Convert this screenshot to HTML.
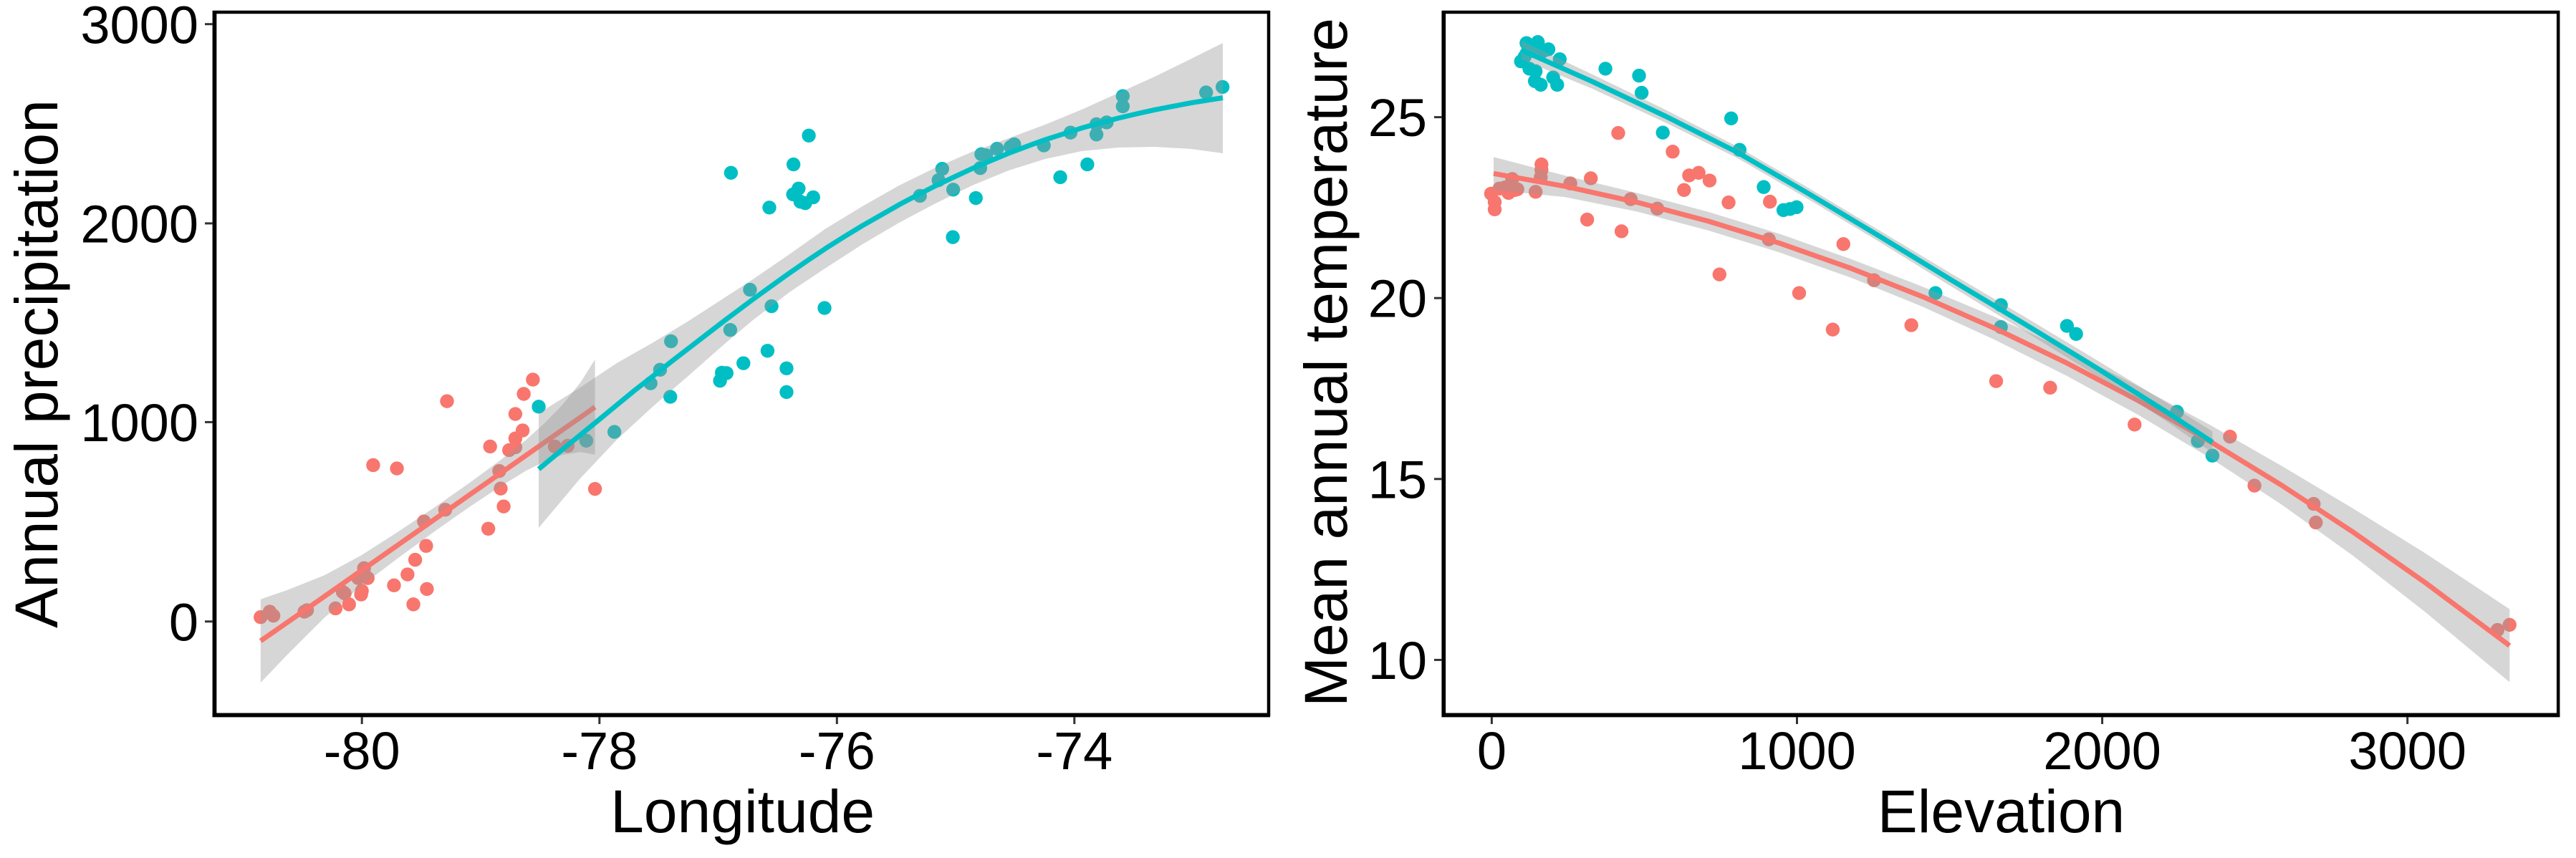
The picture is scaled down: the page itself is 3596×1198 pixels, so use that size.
<!DOCTYPE html>
<html>
<head>
<meta charset="utf-8">
<style>
html,body{margin:0;padding:0;background:#fff;}
svg{display:block;}
text{font-family:"Liberation Sans",Arial,Helvetica,sans-serif;fill:#000;}
</style>
</head>
<body>
<svg width="3596" height="1198" viewBox="0 0 3596 1198" xmlns="http://www.w3.org/2000/svg">
<rect x="0" y="0" width="3596" height="1198" fill="#fff"/>

<!-- ================= LEFT PANEL POINTS ================= -->
<g transform="translate(300,200) scale(0.5102)">
  <g fill="#F8766D">
    <circle cx="125" cy="1297" r="19"/><circle cx="150" cy="1282" r="19"/><circle cx="160" cy="1293" r="19"/>
    <circle cx="245" cy="1282" r="19"/><circle cx="252" cy="1278" r="19"/><circle cx="330" cy="1273" r="19"/>
    <circle cx="350" cy="1228" r="19"/><circle cx="355" cy="1232" r="19"/><circle cx="367" cy="1262" r="19"/>
    <circle cx="400" cy="1235" r="19"/><circle cx="402" cy="1225" r="19"/><circle cx="392" cy="1190" r="19"/>
    <circle cx="408" cy="1163" r="19"/><circle cx="418" cy="1190" r="19"/><circle cx="490" cy="1210" r="19"/>
    <circle cx="527" cy="1180" r="19"/><circle cx="548" cy="1140" r="19"/><circle cx="543" cy="1262" r="19"/>
    <circle cx="580" cy="1220" r="19"/><circle cx="578" cy="1102" r="19"/><circle cx="572" cy="1035" r="19"/>
    <circle cx="630" cy="1003" r="19"/><circle cx="433" cy="881" r="19"/><circle cx="498" cy="890" r="19"/>
    <circle cx="635" cy="706" r="19"/><circle cx="748" cy="1055" r="19"/><circle cx="790" cy="994" r="19"/>
    <circle cx="782" cy="945" r="19"/><circle cx="778" cy="897" r="19"/><circle cx="753" cy="830" r="19"/>
    <circle cx="805" cy="840" r="19"/><circle cx="822" cy="832" r="19"/><circle cx="822" cy="808" r="19"/>
    <circle cx="842" cy="786" r="19"/><circle cx="822" cy="741" r="19"/><circle cx="845" cy="686" r="19"/>
    <circle cx="870" cy="647" r="19"/><circle cx="930" cy="830" r="19"/><circle cx="965" cy="828" r="19"/>
    <circle cx="1040" cy="946" r="19"/>
  </g>
  <g fill="#00BFC4">
    <circle cx="886" cy="721" r="19"/><circle cx="1016" cy="814" r="19"/><circle cx="1093" cy="790" r="19"/>
    <circle cx="1192" cy="657" r="19"/><circle cx="1218" cy="620" r="19"/><circle cx="1248" cy="542" r="19"/>
    <circle cx="1246" cy="694" r="19"/>
  </g>
</g>
<g transform="translate(1000,0) scale(0.5102)" fill="#00BFC4">
  <circle cx="40" cy="473" r="19"/><circle cx="145" cy="568" r="19"/><circle cx="211" cy="450" r="19"/>
  <circle cx="253" cy="371" r="19"/><circle cx="210" cy="532" r="19"/><circle cx="225" cy="516" r="19"/>
  <circle cx="230" cy="552" r="19"/><circle cx="243" cy="556" r="19"/><circle cx="265" cy="540" r="19"/>
  <circle cx="92" cy="793" r="19"/><circle cx="38" cy="903" r="19"/><circle cx="151" cy="838" r="19"/>
  <circle cx="296" cy="843" r="19"/><circle cx="140" cy="960" r="19"/><circle cx="74" cy="994" r="19"/>
  <circle cx="15" cy="1020" r="19"/><circle cx="28" cy="1021" r="19"/><circle cx="10" cy="1042" r="19"/>
  <circle cx="192" cy="1008" r="19"/><circle cx="192" cy="1073" r="19"/><circle cx="557" cy="536" r="19"/>
  <circle cx="618" cy="462" r="19"/><circle cx="608" cy="493" r="19"/><circle cx="648" cy="519" r="19"/>
  <circle cx="647" cy="649" r="19"/><circle cx="710" cy="542" r="19"/><circle cx="722" cy="460" r="19"/>
  <circle cx="725" cy="422" r="19"/><circle cx="738" cy="425" r="19"/><circle cx="768" cy="407" r="19"/>
  <circle cx="805" cy="402" r="19"/><circle cx="815" cy="395" r="19"/><circle cx="896" cy="398" r="19"/>
  <circle cx="941" cy="485" r="19"/><circle cx="969" cy="363" r="19"/><circle cx="1015" cy="450" r="19"/>
  <circle cx="1040" cy="340" r="19"/><circle cx="1040" cy="368" r="19"/><circle cx="1068" cy="335" r="19"/>
  <circle cx="1112" cy="263" r="19"/><circle cx="1112" cy="291" r="19"/><circle cx="1340" cy="253" r="19"/>
  <circle cx="1385" cy="238" r="19"/>
</g>

<!-- ================= RIGHT PANEL POINTS ================= -->
<g transform="translate(2010,0) scale(0.5102)">
  <g fill="#F8766D">
    <circle cx="140" cy="530" r="19"/><circle cx="150" cy="553" r="19"/><circle cx="150" cy="573" r="19"/>
    <circle cx="163" cy="516" r="19"/><circle cx="178" cy="513" r="19"/><circle cx="188" cy="528" r="19"/>
    <circle cx="198" cy="490" r="19"/><circle cx="205" cy="520" r="19"/><circle cx="212" cy="518" r="19"/>
    <circle cx="262" cy="525" r="19"/><circle cx="276" cy="485" r="19"/><circle cx="278" cy="465" r="19"/>
    <circle cx="278" cy="450" r="19"/><circle cx="357" cy="502" r="19"/><circle cx="413" cy="488" r="19"/>
    <circle cx="403" cy="601" r="19"/><circle cx="488" cy="364" r="19"/><circle cx="497" cy="633" r="19"/>
    <circle cx="522" cy="545" r="19"/><circle cx="595" cy="571" r="19"/><circle cx="637" cy="415" r="19"/>
    <circle cx="668" cy="520" r="19"/><circle cx="682" cy="480" r="19"/><circle cx="708" cy="473" r="19"/>
    <circle cx="738" cy="494" r="19"/><circle cx="790" cy="554" r="19"/><circle cx="903" cy="552" r="19"/>
    <circle cx="900" cy="655" r="19"/><circle cx="765" cy="751" r="19"/><circle cx="983" cy="802" r="19"/>
    <circle cx="1075" cy="902" r="19"/><circle cx="1104" cy="668" r="19"/><circle cx="1188" cy="767" r="19"/>
    <circle cx="1290" cy="890" r="19"/><circle cx="1522" cy="1043" r="19"/>
  </g>
  <g fill="#00BFC4">
    <circle cx="237" cy="118" r="19"/><circle cx="268" cy="115" r="19"/><circle cx="297" cy="135" r="19"/>
    <circle cx="328" cy="162" r="19"/><circle cx="238" cy="145" r="19"/><circle cx="222" cy="168" r="19"/>
    <circle cx="245" cy="188" r="19"/><circle cx="262" cy="195" r="19"/><circle cx="260" cy="222" r="19"/>
    <circle cx="276" cy="232" r="19"/><circle cx="310" cy="212" r="19"/><circle cx="321" cy="232" r="19"/>
    <circle cx="255" cy="130" r="19"/><circle cx="282" cy="140" r="19"/><circle cx="232" cy="155" r="19"/>
    <circle cx="453" cy="188" r="19"/><circle cx="545" cy="207" r="19"/><circle cx="552" cy="254" r="19"/>
    <circle cx="610" cy="363" r="19"/><circle cx="797" cy="324" r="19"/><circle cx="820" cy="410" r="19"/>
    <circle cx="886" cy="512" r="19"/><circle cx="940" cy="575" r="19"/><circle cx="958" cy="572" r="19"/>
    <circle cx="976" cy="567" r="19"/><circle cx="1356" cy="802" r="19"/><circle cx="1535" cy="835" r="19"/>
    <circle cx="1535" cy="895" r="19"/>
  </g>
</g>
<g transform="translate(2790,200) scale(0.5102)">
  <g fill="#F8766D">
    <circle cx="141" cy="669" r="19"/><circle cx="372" cy="770" r="19"/><circle cx="633" cy="803" r="19"/>
    <circle cx="700" cy="937" r="19"/><circle cx="862" cy="987" r="19"/><circle cx="868" cy="1038" r="19"/>
    <circle cx="1365" cy="1332" r="19"/><circle cx="1398" cy="1318" r="19"/>
  </g>
  <g fill="#00BFC4">
    <circle cx="187" cy="500" r="19"/><circle cx="212" cy="522" r="19"/><circle cx="488" cy="735" r="19"/>
    <circle cx="545" cy="815" r="19"/><circle cx="585" cy="855" r="19"/>
  </g>
</g>

<!-- ================= LEFT PANEL SMOOTHS ================= -->
<polygon fill="#999999" fill-opacity="0.4" points="363.8,836.7 402,823.5 453.1,803.1 504.1,775.5 555.1,742.9 606.1,708.7 657.1,673 698,642.9 733.7,614.8 759.2,591.8 784.7,565.8 810.2,534.2 830.6,502 830.6,634.7 810.2,631.1 784.7,635.2 759.2,644.9 733.7,657.6 698,679.6 657.1,706.6 606.1,742.4 555.1,779.6 504.1,818.4 453.1,862.2 402,913.3 363.8,953.1"/>
<polyline fill="none" stroke="#F8766D" stroke-width="7" stroke-linejoin="round" points="363.8,894.9 402,868.4 453.1,832.6 504.1,796.9 555.1,761.2 606.1,725.5 657.1,689.8 698,661.2 733.7,636.2 759.2,618.4 784.7,600.5 810.2,582.7 830.6,568.4"/>
<polygon fill="#999999" fill-opacity="0.4" points="752,577 810,541 861,507 912,478 963,447 1014,414 1051,390 1102,355 1153,319 1204,288 1255,259 1306,234 1357,212 1408,193 1459,174 1510,153 1561,130 1612,107 1663,82 1707,60 1707,214 1663,208 1612,205 1561,206 1510,211 1459,222 1408,238 1357,259 1306,284 1255,311 1204,341 1153,374 1102,408 1051,447 1014,478 963,523 912,567 861,614 810,668 752,737"/>
<polyline fill="none" stroke="#00BFC4" stroke-width="7" stroke-linejoin="round" points="752,655 781,631 810,607.4 835,587 861,565.6 886,545 912,524.8 937,505 963,485 988,465.7 1014,445.7 1033,431.5 1051,418 1076,399.9 1102,381.3 1127,364 1153,346.6 1178,330.8 1204,315 1230,300.2 1255,285.9 1281,272.2 1306,259.4 1332,247.1 1357,235.4 1383,224.4 1408,214 1434,204.2 1459,195.1 1485,186.8 1510,178.8 1536,171.6 1561,165 1587,158.9 1612,153.3 1638,148.3 1663,143.6 1685,140 1707,136.6"/>

<!-- ================= RIGHT PANEL SMOOTHS ================= -->
<polygon fill="#999999" fill-opacity="0.4" points="2085,219.3 2185,245.2 2285,269.4 2385,295.9 2485,326.8 2585,362.1 2685,400.7 2785,442.6 2885,488.8 2985,539.4 3085,593.3 3185,650.5 3285,710.1 3385,772.1 3503.3,850.5 3503.3,952.5 3385,854.1 3285,776.1 3185,704.5 3085,639.3 2985,579.4 2885,524.8 2785,474.6 2685,428.7 2585,388.1 2485,352.8 2385,321.9 2285,295.4 2185,275.2 2085,265.3"/>
<polyline fill="none" stroke="#F8766D" stroke-width="7" stroke-linejoin="round" points="2085,242.3 2185,260.2 2285,282.4 2385,308.9 2485,339.8 2585,375.1 2685,414.7 2785,458.6 2885,506.8 2985,559.4 3085,616.3 3185,677.5 3285,743.1 3385,813.1 3503.3,901.5"/>
<polygon fill="#999999" fill-opacity="0.4" points="2124,57 2224,104.4 2324,152.8 2424,204 2524,262 2624,322 2724,382 2824,441 2924,501 3024,562 3088.5,602.4 3088.5,632.4 3024,588 2924,523 2824,461 2724,400 2624,338 2524,278 2424,220 2324,170.8 2224,124.4 2124,83"/>
<polyline fill="none" stroke="#00BFC4" stroke-width="7" stroke-linejoin="round" points="2124,70 2224,114.4 2324,161.8 2424,212 2524,270 2624,330 2724,391 2824,451 2924,512 3024,575 3088.5,617.4"/>

<!-- ================= LEFT PANEL AXES ================= -->
<rect x="299" y="17" width="1472" height="981" fill="none" stroke="#000" stroke-width="4.5"/>
<line x1="299.5" y1="15" x2="299.5" y2="1001" stroke="#000" stroke-width="5.7"/>
<line x1="296.5" y1="998.5" x2="1773" y2="998.5" stroke="#000" stroke-width="5.7"/>
<g stroke="#333" stroke-width="3">
  <line x1="286" y1="33.7" x2="297" y2="33.7"/>
  <line x1="286" y1="311.9" x2="297" y2="311.9"/>
  <line x1="286" y1="589.4" x2="297" y2="589.4"/>
  <line x1="286" y1="867.8" x2="297" y2="867.8"/>
  <line x1="505.2" y1="1001" x2="505.2" y2="1011"/>
  <line x1="836.8" y1="1001" x2="836.8" y2="1011"/>
  <line x1="1168.3" y1="1001" x2="1168.3" y2="1011"/>
  <line x1="1499.8" y1="1001" x2="1499.8" y2="1011"/>
</g>
<g font-size="74" text-anchor="end">
  <text x="277" y="60.3">3000</text>
  <text x="277" y="338.4">2000</text>
  <text x="277" y="615.9">1000</text>
  <text x="277" y="894.3">0</text>
</g>
<g font-size="74" text-anchor="middle">
  <text x="505.2" y="1074">-80</text>
  <text x="836.8" y="1074">-78</text>
  <text x="1168.3" y="1074">-76</text>
  <text x="1499.8" y="1074">-74</text>
</g>
<text x="1036.6" y="1162" font-size="84" text-anchor="middle">Longitude</text>
<text transform="translate(80,508) rotate(-90)" font-size="84" text-anchor="middle">Annual precipitation</text>

<!-- ================= RIGHT PANEL AXES ================= -->
<rect x="2015.3" y="17" width="1555.9" height="981" fill="none" stroke="#000" stroke-width="4.5"/>
<line x1="2015.3" y1="15" x2="2015.3" y2="1001" stroke="#000" stroke-width="5.7"/>
<line x1="2012.5" y1="998.5" x2="3573.5" y2="998.5" stroke="#000" stroke-width="5.7"/>
<g stroke="#333" stroke-width="3">
  <line x1="2002" y1="163.6" x2="2013" y2="163.6"/>
  <line x1="2002" y1="416.2" x2="2013" y2="416.2"/>
  <line x1="2002" y1="668.8" x2="2013" y2="668.8"/>
  <line x1="2002" y1="921.4" x2="2013" y2="921.4"/>
  <line x1="2082.4" y1="1001" x2="2082.4" y2="1011"/>
  <line x1="2508.5" y1="1001" x2="2508.5" y2="1011"/>
  <line x1="2934.6" y1="1001" x2="2934.6" y2="1011"/>
  <line x1="3360.7" y1="1001" x2="3360.7" y2="1011"/>
</g>
<g font-size="74" text-anchor="end">
  <text x="1992" y="190.1">25</text>
  <text x="1992" y="442.7">20</text>
  <text x="1992" y="695.3">15</text>
  <text x="1992" y="947.9">10</text>
</g>
<g font-size="74" text-anchor="middle">
  <text x="2082.4" y="1074">0</text>
  <text x="2508.5" y="1074">1000</text>
  <text x="2934.6" y="1074">2000</text>
  <text x="3360.7" y="1074">3000</text>
</g>
<text x="2793.5" y="1162" font-size="84" text-anchor="middle">Elevation</text>
<text transform="translate(1880,506) rotate(-90)" font-size="84" text-anchor="middle">Mean annual temperature</text>
</svg>
</body>
</html>
